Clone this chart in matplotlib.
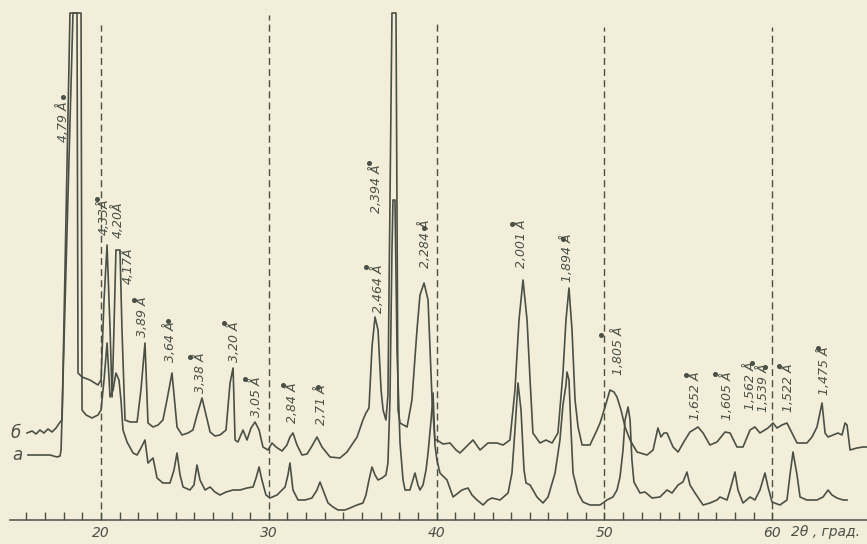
import matplotlib.pyplot as plt

# trace "б" (upper curve): 2theta, deg / intensity, arb. units
two_theta_b = [15.59, 15.89, 16.13, 16.36, 16.60, 16.84, 17.08, 17.32, 17.56, 17.68,
               18.15, 18.57, 18.63, 18.87, 19.34, 19.82, 20.00, 20.18, 20.36, 20.54,
               20.66, 20.77, 20.89, 21.13, 21.25, 21.43, 21.73, 22.15, 22.38, 22.62,
               22.80, 23.10, 23.40, 23.69, 23.93, 24.23, 24.53, 24.83, 25.18, 25.48,
               25.72, 26.02, 26.26, 26.50, 26.79, 27.09, 27.45, 27.69, 27.87, 27.99,
               28.16, 28.46, 28.70, 28.94, 29.18, 29.42, 29.65, 29.95, 30.19, 30.43,
               30.79, 31.08, 31.26, 31.44, 31.68, 31.98, 32.28, 32.57, 32.87, 33.17,
               33.65, 34.24, 34.66, 35.26, 35.61, 35.79, 35.97, 36.15, 36.33, 36.51,
               36.69, 36.81, 36.98, 37.10, 37.34, 37.58, 37.70, 37.82, 38.24, 38.53,
               38.83, 39.01, 39.25, 39.49, 39.73, 39.90, 40.02, 40.38, 40.80, 41.16,
               41.39, 41.75, 42.17, 42.59, 43.06, 43.60, 43.96, 44.37, 44.67, 44.91,
               45.15, 45.39, 45.57, 45.74, 46.16, 46.52, 46.88, 47.23, 47.53, 47.71,
               47.89, 48.07, 48.25, 48.43, 48.67, 49.14, 49.56, 49.74, 50.04, 50.33,
               50.57, 50.75, 50.99, 51.23, 51.53, 51.94, 52.54, 52.90, 53.19, 53.37,
               53.55, 53.73, 54.09, 54.39, 54.80, 55.10, 55.58, 55.88, 56.29, 56.71,
               57.19, 57.49, 57.90, 58.26, 58.68, 58.97, 59.27, 59.75, 60.05, 60.29,
               60.58, 60.88, 61.18, 61.48, 62.07, 62.37, 62.67, 62.97, 63.15, 63.33,
               63.62, 63.92, 64.16, 64.34, 64.46, 64.64, 65.05, 65.41, 65.65]
intensity_b = [87, 89, 86, 90, 87, 91, 88, 92, 98, 100,
               507, 507, 147, 143, 140, 135, 140, 220, 275, 190,
               123, 190, 270, 270, 190, 100, 98, 98, 130, 177,
               97, 93, 95, 100, 120, 147, 93, 85, 87, 90,
               105, 122, 105, 88, 84, 85, 90, 137, 152, 80,
               78, 90, 80, 92, 98, 90, 73, 70, 77, 73,
               69, 75, 83, 87, 75, 65, 66, 74, 83, 73,
               63, 62, 68, 83, 100, 107, 112, 173, 203, 190,
               130, 110, 100, 125, 507, 507, 110, 97, 93, 120,
               190, 225, 237, 220, 120, 80, 80, 76, 77, 70,
               67, 73, 80, 70, 77, 77, 75, 80, 130, 200,
               240, 200, 140, 87, 77, 80, 77, 87, 147, 200,
               232, 190, 120, 93, 75, 75, 90, 97, 113, 130,
               128, 123, 110, 93, 80, 68, 65, 70, 92, 83,
               87, 87, 73, 68, 80, 88, 93, 87, 75, 78,
               88, 87, 73, 73, 90, 93, 87, 92, 97, 92,
               95, 97, 87, 77, 77, 83, 93, 117, 87, 83,
               85, 87, 85, 97, 95, 70, 72, 73, 73]

# trace "а" (lower curve)
two_theta_a = [15.65, 16.36, 16.96, 17.38, 17.56, 17.62, 18.33, 18.81, 18.87, 19.11,
               19.46, 19.82, 20.00, 20.18, 20.36, 20.54, 20.72, 20.89, 21.07, 21.19,
               21.31, 21.55, 21.91, 22.15, 22.38, 22.62, 22.80, 23.10, 23.34, 23.69,
               24.11, 24.35, 24.53, 24.71, 24.89, 25.30, 25.54, 25.72, 25.90, 26.20,
               26.50, 26.79, 27.09, 27.45, 27.87, 28.28, 28.70, 29.06, 29.24, 29.42,
               29.59, 29.83, 30.07, 30.49, 30.97, 31.14, 31.26, 31.44, 31.74, 32.16,
               32.57, 32.87, 33.05, 33.23, 33.53, 33.83, 34.12, 34.54, 34.84, 35.26,
               35.61, 35.79, 35.97, 36.15, 36.33, 36.51, 36.75, 36.98, 37.10, 37.22,
               37.34, 37.40, 37.52, 37.64, 37.82, 38.00, 38.12, 38.41, 38.59, 38.71,
               38.89, 39.01, 39.19, 39.37, 39.49, 39.67, 39.79, 39.90, 40.02, 40.20,
               40.62, 40.98, 41.28, 41.51, 41.87, 42.11, 42.41, 42.77, 43.06, 43.30,
               43.78, 44.26, 44.49, 44.67, 44.85, 45.03, 45.21, 45.33, 45.57, 45.74,
               45.98, 46.34, 46.64, 47.06, 47.35, 47.53, 47.71, 47.77, 47.89, 48.01,
               48.13, 48.43, 48.72, 49.14, 49.74, 50.15, 50.51, 50.75, 50.93, 51.11,
               51.23, 51.41, 51.53, 51.64, 51.76, 52.12, 52.42, 52.84, 53.31, 53.73,
               54.03, 54.39, 54.68, 54.92, 55.10, 55.40, 55.88, 56.29, 56.71, 56.89,
               57.31, 57.49, 57.78, 57.96, 58.26, 58.68, 58.97, 59.27, 59.57, 59.75,
               59.99, 60.46, 60.88, 61.06, 61.24, 61.48, 61.66, 62.07, 62.67, 63.03,
               63.33, 63.56, 63.86, 64.22, 64.46]
intensity_a = [65, 65, 65, 63, 64, 70, 507, 507, 110, 105,
               102, 105, 110, 140, 177, 123, 130, 147, 140, 120,
               90, 78, 67, 65, 72, 80, 57, 62, 42, 37,
               37, 50, 67, 45, 33, 30, 35, 55, 40, 30,
               33, 28, 25, 28, 30, 30, 32, 33, 42, 53,
               40, 25, 22, 25, 33, 45, 57, 30, 20, 20,
               22, 30, 38, 30, 17, 13, 10, 10, 12, 15,
               17, 25, 40, 53, 45, 40, 42, 45, 57, 120,
               270, 320, 320, 170, 77, 40, 30, 30, 40, 47,
               35, 30, 35, 50, 67, 100, 127, 75, 60, 47,
               40, 23, 27, 30, 32, 25, 20, 15, 20, 22,
               20, 27, 47, 90, 137, 110, 50, 37, 35, 30,
               23, 17, 23, 47, 80, 115, 135, 148, 140, 90,
               47, 27, 18, 15, 15, 20, 23, 30, 43, 70,
               100, 113, 100, 60, 38, 27, 28, 22, 23, 30,
               27, 35, 38, 48, 35, 27, 15, 17, 20, 23,
               20, 30, 48, 30, 17, 23, 20, 30, 47, 33,
               18, 15, 20, 45, 68, 45, 23, 20, 20, 23,
               30, 25, 22, 20, 20]

# interplanar spacings marked on the peaks
d_labels = ["4,79 Å", "4,33Å", "4,20Å", "4,17Å", "3,89 Å", "3,64 Å", "3,38 Å",
            "3,20 Å", "3,05 Å", "2,84 Å", "2,71 Å", "2,464 Å", "2,394 Å", "2,284 Å",
            "2,001 Å", "1,894 Å", "1,805 Å", "1,652 Å", "1,605 Å", "1,562 Å",
            "1,539 Å", "1,522 Å", "1,475 Å"]
label_x = [17.74, 20.22, 21.02, 21.65, 22.50, 24.17, 25.90, 27.93, 29.24, 31.44,
           33.17, 36.51, 36.39, 39.31, 45.03, 47.83, 50.87, 55.40, 57.31, 58.70,
           59.50, 61.00, 63.09]
label_y = [378, 285, 282, 236, 183, 158, 127, 158, 103, 97,
           95, 207, 307, 252, 252, 238, 145, 100, 100, 110,
           108, 108, 125]
dot_x = [17.74, 19.76, 21.97, 23.99, 25.30, 27.33, 28.58, 30.85, 32.93, 35.79,
         35.97, 39.25, 44.49, 47.53, 49.80, 54.86, 56.59, 58.80, 59.57, 60.41, 62.73]
dot_y = [423, 321, 220, 199, 163, 197, 141, 135, 133, 253,
         357, 292, 296, 281, 185, 145, 146, 157, 153, 154, 172]

grid_lines = [20, 30, 40, 50, 60]
grid_top = [495, 505, 498, 493, 493]
major_ticks = [20, 30, 40, 50, 60]
minor_ticks = [20 + k * 10 / 9 for k in range(-4, 37)]

paper = '#f2eed9'
ink = '#4b5046'

fig = plt.figure(figsize=(8.67, 5.44), dpi=100, facecolor=paper)
ax = fig.add_axes([0, 24 / 544, 1, 520 / 544])
ax.set_facecolor(paper)
ax.set_xlim(13.98, 65.65)
ax.set_ylim(0, 520)

ax.plot(two_theta_b, intensity_b, color=ink, lw=1.2)
ax.plot(two_theta_a, intensity_a, color=ink, lw=1.2)

for x, top in zip(grid_lines, grid_top):
    ax.plot([x, x], [0, top], color=ink, lw=1.0, linestyle=(0, (5, 3)))

for txt, x, y in zip(d_labels, label_x, label_y):
    ax.text(x, y, txt, rotation=90, ha='center', va='bottom', fontsize=9,
            fontstyle='italic', color=ink)
ax.plot(dot_x, dot_y, 'o', color=ink, markersize=2.6)

ax.text(15.2, 87, 'б', ha='right', va='center', fontsize=12, fontstyle='italic', color=ink)
ax.text(15.3, 65, 'а', ha='right', va='center', fontsize=12, fontstyle='italic', color=ink)

for side in ['top', 'left', 'right']:
    ax.spines[side].set_visible(False)
ax.spines['bottom'].set_color(ink)
ax.spines['bottom'].set_linewidth(1.1)
ax.spines['bottom'].set_bounds(14.58, 65.65)
ax.set_yticks([])
ax.set_xticks(major_ticks)
ax.set_xticks([t for t in minor_ticks if t not in major_ticks], minor=True)
ax.set_xticklabels([str(t) for t in major_ticks], fontstyle='italic', fontsize=10, color=ink)
ax.tick_params(axis='x', which='both', direction='in', length=6, width=1.0,
               color=ink, pad=4)
ax.text(63.2, -12, '2θ , град.', ha='center', va='center', fontsize=10,
        fontstyle='italic', color=ink)

fig.savefig('out.png', dpi=100, facecolor=paper)
